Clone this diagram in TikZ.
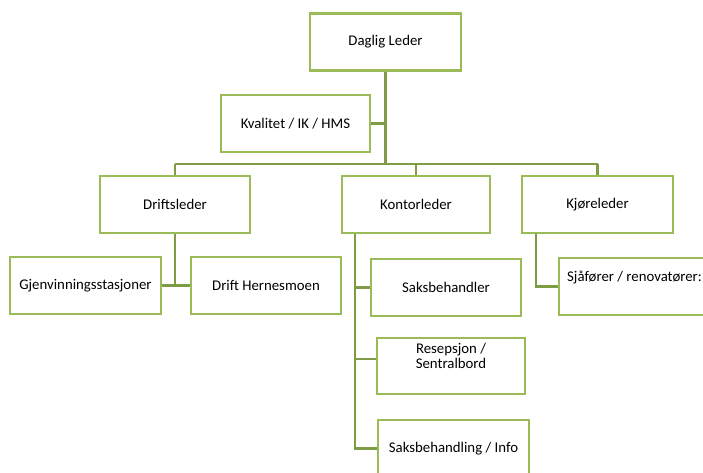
\documentclass[tikz,border=0pt]{standalone}
\usepackage{fontspec}
\setmainfont{Carlito}
\usetikzlibrary{positioning}
\usetikzlibrary{calc}
\definecolor{boxgreen}{HTML}{9BBB59}
\definecolor{linegreen}{HTML}{7E9C44}
\tikzset{
	every node/.style={align=center,font=\fontsize{14.8}{15.5}\selectfont},
	box/.style={draw=boxgreen,line width=2.6pt,fill=white,minimum width=150pt,minimum height=57pt,inner sep=0pt},
	link/.style={draw=linegreen,line width=2.4pt},
	trunk/.style={draw=linegreen,line width=3.2pt},
}

\begin{document}
\begin{tikzpicture}[x=1pt,y=-1pt]
	\clip (0,0) rectangle (703,473);
	\fill[white] (0,0) rectangle (703,473);

	%top.....................
	\node [box,minimum width=151pt] (daglig) at (385.5,42) {Daglig Leder};
	\node [box,minimum width=149pt] (kvalitet) at (295.5,123.5) {Kvalitet / IK / HMS};

	%middle row......................
	\node [box] (drift) at (175,204.5) {Driftsleder};
	\node [box,minimum width=148pt] (kontor) at (416,204.5) {Kontorleder};
	\node [box,minimum width=151pt] (kjore) at (597.5,204.5) {Kjøreleder};

	%under Driftsleder...................
	\node [box,minimum width=151pt] (gjenv) at (85.5,285.5) {Gjenvinningsstasjoner};
	\node [box] (hernes) at (266,285.5) {Drift Hernesmoen};

	%under Kontorleder...................
	\node [box] (saksb) at (446,287.5) {Saksbehandler};
	\node [box,minimum width=148pt,minimum height=56pt] (resep) at (451,366) {Resepsjon /\\Sentralbord\\\strut};
	\node [box,minimum width=151pt] (info) at (453.5,448.5) {Saksbehandling / Info};

	%under Kjøreleder...................
	\node [box,minimum width=151pt] (sjafor) at (634.5,286.5) {Sjåfører / renovatører:\\\strut};

	%connectors...................
	\coordinate (bar) at (386,164);
	\draw [trunk] (daglig.south) -- (daglig.south |- bar);
	\draw [link] (kvalitet.east) -- (kvalitet.east -| daglig.south);
	\draw [link] (drift.north |- bar) -- (kjore.north |- bar);
	\draw [link] (drift.north |- bar) -- (drift.north);
	\draw [link] (kontor.north |- bar) -- (kontor.north);
	\draw [link] (kjore.north |- bar) -- (kjore.north);

	\draw [link] (drift.south) -- (drift.south |- gjenv.east);
	\draw [link] (gjenv.east) -- (hernes.west);

	\coordinate (kline) at ($(kontor.south west)+(14,0)$);
	\coordinate (resepin) at ($(resep.west)+(0,-7)$);
	\draw [link] (kline) -- (kline |- info.west) -- (info.west);
	\draw [link] (kline |- saksb.west) -- (saksb.west);
	\draw [link] (kline |- resepin) -- (resepin);

	\coordinate (jline) at ($(kjore.south west)+(15,0)$);
	\draw [link] (jline) -- (jline |- sjafor.west) -- (sjafor.west);

\end{tikzpicture}
\end{document}
